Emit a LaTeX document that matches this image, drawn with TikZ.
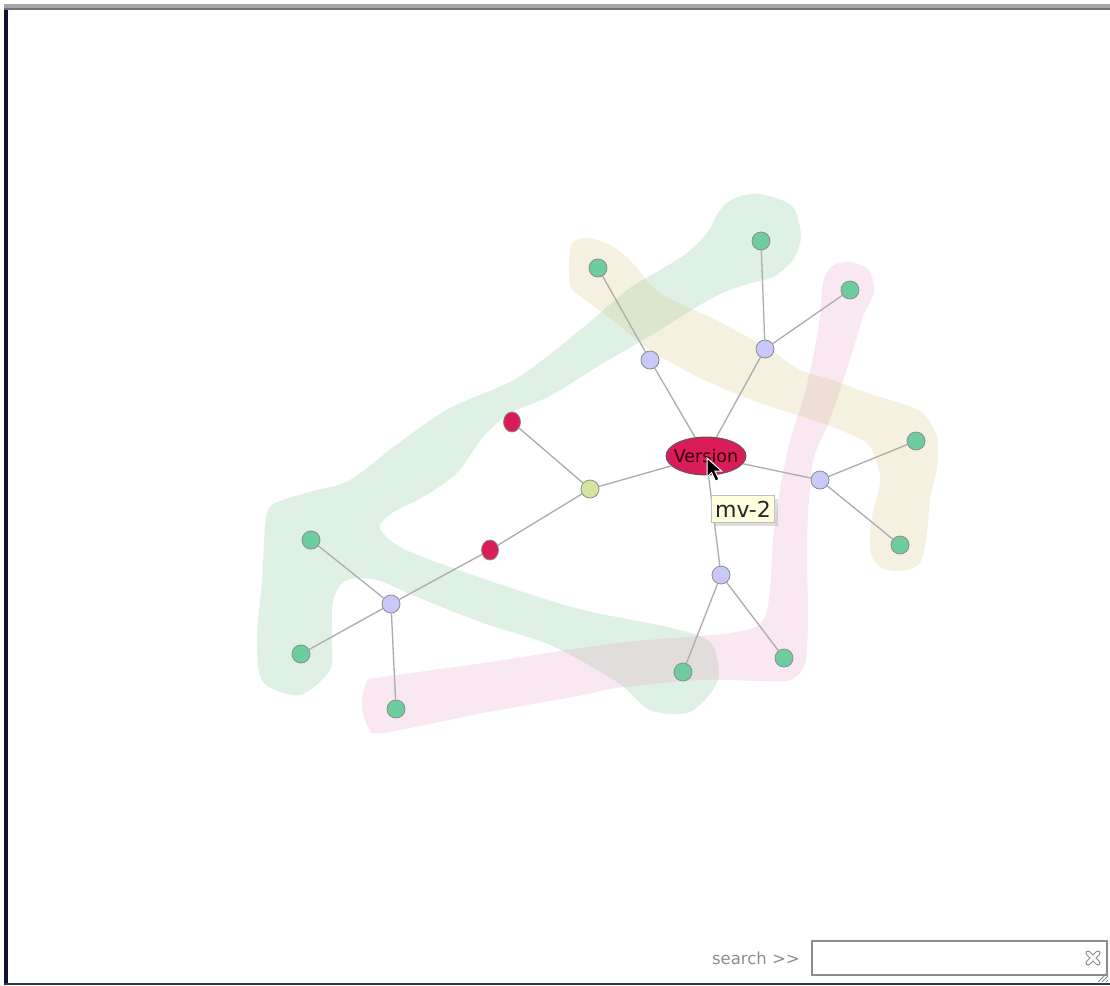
\documentclass[tikz,border=0pt]{standalone}
\usepackage{fontspec}
\setmainfont{DejaVu Sans}
\usetikzlibrary{shapes.geometric,shadows,calc}
\definecolor{gnode}{RGB}{110,205,158}
\definecolor{bnode}{RGB}{200,200,250}
\definecolor{rnode}{RGB}{218,28,88}
\definecolor{ynode}{RGB}{214,230,160}
\definecolor{nborder}{RGB}{140,140,140}
\definecolor{edgec}{RGB}{172,172,172}
\definecolor{hgreen}{RGB}{150,210,172}
\definecolor{hpink}{RGB}{232,150,192}
\definecolor{hbeige}{RGB}{205,192,120}
\definecolor{navy}{RGB}{16,16,52}
\definecolor{tipfill}{RGB}{255,255,222}
\tikzset{
  gn/.style={circle,draw=nborder,fill=gnode,minimum size=18pt,inner sep=0pt,line width=0.8pt},
  bn/.style={circle,draw=nborder,fill=bnode,minimum size=18pt,inner sep=0pt,line width=0.8pt},
  yn/.style={circle,draw=nborder,fill=ynode,minimum size=18pt,inner sep=0pt,line width=0.8pt},
  rn/.style={ellipse,draw=nborder,fill=rnode,minimum width=17pt,minimum height=20pt,inner sep=0pt,line width=0.8pt},
  ed/.style={draw=edgec,line width=1.3pt},
  hull/.style={draw=none,fill opacity=0.3},
}
\begin{document}
\begin{tikzpicture}[x=1pt,y=-1pt]
\useasboundingbox (0,0) rectangle (1110,985);
\fill[white] (0,0) rectangle (1110,985);
% hulls
\fill[hull,fill=hgreen] plot[smooth cycle] coordinates {
(760,194) (792,206) (801,236) (793,260) (773,277) (747,284) (720,294) (690,311)
(650,336) (600,365) (550,396) (510,413) (483,437) (457,473) (423,497) (392,513)
(380,528) (400,547) (450,567) (517,590) (583,610) (667,627) (710,642) (718,680)
(690,712) (650,710) (617,682) (550,645) (483,623) (417,597) (377,580) (347,580)
(333,600) (332,640) (330,670) (300,695) (263,682) (257,640) (262,580) (267,513)
(283,500) (317,490) (350,480) (400,442) (450,408) (517,378) (580,330) (627,290)
(660,270) (687,253) (707,233) (720,210) (735,198)};
\fill[hull,fill=hpink,fill opacity=0.22] plot[smooth cycle] coordinates {
(367,681) (383,677) (483,663) (617,643) (730,633) (762,622) (770,590) (773,540)
(780,490) (790,440) (803,400) (813,357) (820,317) (823,283) (832,266) (850,262)
(869,270) (874,292) (863,317) (853,350) (840,390) (827,427) (814,457) (809,500)
(807,550) (808,620) (805,664) (790,680) (760,681) (700,680) (617,688) (583,695)
(483,713) (383,733) (368,727) (362,705)};
\fill[hull,fill=hbeige,fill opacity=0.22] plot[smooth cycle] coordinates {
(572,243) (588,238) (610,245) (630,260) (660,293) (720,322) (770,350) (800,370)
(833,380) (867,393) (900,403) (923,413) (937,437) (937,467) (930,500) (927,533)
(920,563) (900,571) (880,567) (870,550) (872,517) (880,483) (877,463) (867,443)
(840,430) (813,420) (760,403) (700,378) (650,350) (610,318) (583,298) (571,288) (569,265)};
% nodes
\node[ellipse,draw=black!65,fill=rnode,minimum width=80pt,minimum height=38pt,inner sep=0pt,line width=0.9pt,
  label={[font=\fontsize{17.5}{19}\selectfont,text=black!80!red,inner sep=0pt]center:Version}] (ver) at (706,456) {};
\node[bn] (b1) at (650,360) {};
\node[bn] (b2) at (765,349) {};
\node[bn] (b3) at (820,480) {};
\node[bn] (b4) at (721,575) {};
\node[bn] (b5) at (391,604) {};
\node[yn] (y1) at (590,489) {};
\node[rn] (r1) at (512,422) {};
\node[rn] (r2) at (490,550) {};
\node[gn] (g1) at (598,268) {};
\node[gn] (g2) at (761,241) {};
\node[gn] (g3) at (850,290) {};
\node[gn] (g4) at (916,441) {};
\node[gn] (g5) at (900,545) {};
\node[gn] (g6) at (311,540) {};
\node[gn] (g7) at (301,654) {};
\node[gn] (g8) at (396,709) {};
\node[gn] (g9) at (683,672) {};
\node[gn] (g10) at (784,658) {};
% edges
\draw[ed] (ver) -- (b1);
\draw[ed] (ver) -- (b2);
\draw[ed] (ver) -- (b3);
\draw[ed] (ver) -- (b4);
\draw[ed] (ver) -- (y1);
\draw[ed] (b1) -- (g1);
\draw[ed] (b2) -- (g2);
\draw[ed] (b2) -- (g3);
\draw[ed] (b3) -- (g4);
\draw[ed] (b3) -- (g5);
\draw[ed] (b4) -- (g9);
\draw[ed] (b4) -- (g10);
\draw[ed] (y1) -- (r1);
\draw[ed] (y1) -- (r2);
\draw[ed] (r2) -- (b5);
\draw[ed] (b5) -- (g6);
\draw[ed] (b5) -- (g7);
\draw[ed] (b5) -- (g8);
% tooltip
\node[draw=black!25,fill=tipfill,line width=0.6pt,minimum width=63pt,minimum height=27pt,inner sep=0pt,
  drop shadow={shadow xshift=3pt,shadow yshift=-3pt,opacity=0.25},font=\fontsize{22}{24}\selectfont,text=black!85] (tip) at (743,509) {mv-2};
% cursor
\coordinate (cur) at (707,458);
\draw[white,fill=black,line width=1pt,line join=miter] (cur) -- ++(0,19) -- ++(4.5,-4.5) -- ++(4,8.5) -- ++(3.5,-1.5) -- ++(-4,-8.5) -- ++(6.5,0) -- cycle;
% frame
\fill[navy] (4,4) rectangle (7.5,985);
\fill[black!35] (4,4) rectangle (1110,8);
\fill[black!55] (4,7.5) rectangle (1110,9.5);
\fill[black!80!blue!60!gray] (4,982.5) rectangle (1110,985);
% search
\node[anchor=east,text=black!45,font=\fontsize{16.5}{18}\selectfont,inner sep=0pt] (slabel) at (800,958) {search >{}>};
\node[draw=black!45,line width=1.2pt,minimum width=295pt,minimum height=34pt,inner sep=0pt] (sbox) at (959.5,958) {};
\coordinate (xc) at (1093,958);
\draw[black!45,line width=5pt,line cap=round] ($(xc)+(-5,-5)$) -- ($(xc)+(5,5)$) ($(xc)+(-5,5)$) -- ($(xc)+(5,-5)$);
\draw[white,line width=3pt,line cap=round] ($(xc)+(-5,-5)$) -- ($(xc)+(5,5)$) ($(xc)+(-5,5)$) -- ($(xc)+(5,-5)$);
\draw[black!45,line width=0.8pt] (1098,982) -- (1108,972) (1102,982) -- (1108,976) (1106,982) -- (1108,980);
\end{tikzpicture}
\end{document}
